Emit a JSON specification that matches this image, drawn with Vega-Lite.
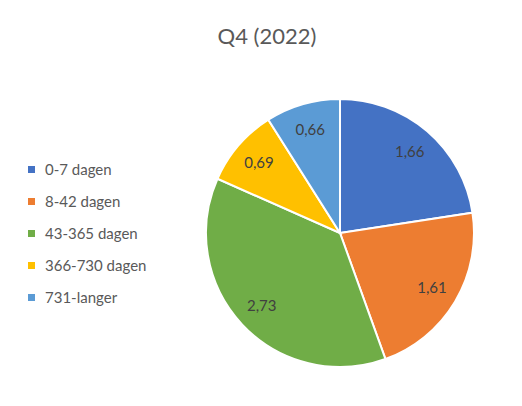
{
  "$schema": "https://vega.github.io/schema/vega-lite/v6.json",
  "width": 268,
  "height": 268,
  "autosize": {"type": "none"},
  "padding": {"left": 206, "top": 99, "right": 48, "bottom": 39},
  "background": "white",
  "config": {
    "view": {"stroke": null},
    "locale": {"number": {"decimal": ",", "thousands": ".", "grouping": [3], "currency": ["€", ""]}}
  },
  "title": {
    "text": "Q4 (2022)",
    "font": "Lato",
    "fontSize": 22,
    "fontWeight": "normal",
    "color": "#595959",
    "anchor": "middle",
    "dx": -73,
    "offset": 46
  },
  "data": {
    "values": [
      {"categorie": "0-7 dagen", "waarde": 1.66, "rang": 1},
      {"categorie": "8-42 dagen", "waarde": 1.61, "rang": 2},
      {"categorie": "43-365 dagen", "waarde": 2.73, "rang": 3},
      {"categorie": "366-730 dagen", "waarde": 0.69, "rang": 4},
      {"categorie": "731-langer", "waarde": 0.66, "rang": 5}
    ]
  },
  "encoding": {
    "theta": {"field": "waarde", "type": "quantitative", "stack": true},
    "order": {"field": "rang", "type": "quantitative"},
    "color": {
      "field": "categorie",
      "type": "nominal",
      "sort": ["0-7 dagen", "8-42 dagen", "43-365 dagen", "366-730 dagen", "731-langer"],
      "scale": {
        "domain": ["0-7 dagen", "8-42 dagen", "43-365 dagen", "366-730 dagen", "731-langer"],
        "range": ["#4472C4", "#ED7D31", "#70AD47", "#FFC000", "#5B9BD5"]
      },
      "legend": {
        "title": null,
        "orient": "none",
        "legendX": -182,
        "legendY": 63,
        "symbolType": "square",
        "symbolSize": 49,
        "symbolStrokeWidth": 0,
        "labelFont": "Lato",
        "labelFontSize": 15,
        "labelColor": "#595959",
        "rowPadding": 16,
        "labelOffset": 6
      }
    }
  },
  "layer": [
    {
      "mark": {"type": "arc", "outerRadius": 134, "stroke": "white", "strokeWidth": 2}
    },
    {
      "mark": {"type": "text", "radius": 107, "font": "Lato", "fontSize": 15, "color": "#404040"},
      "encoding": {
        "text": {"field": "waarde", "type": "quantitative", "format": ".2f"},
        "color": {"value": "#404040"}
      }
    }
  ]
}
